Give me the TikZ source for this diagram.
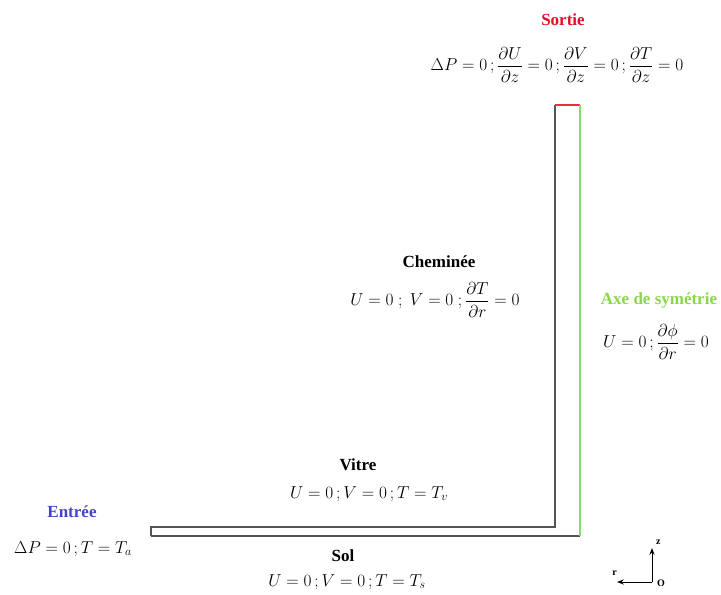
\documentclass[tikz,border=0pt]{standalone}
\usepackage{amsmath}
\usepackage{fontspec}
\setmainfont{Liberation Serif}
\usetikzlibrary{arrows.meta, positioning}
\definecolor{wallgray}{HTML}{555555}
\definecolor{outred}{HTML}{e8303a}
\definecolor{axisgreen}{HTML}{7ee06a}
\definecolor{sortiered}{HTML}{e0102a}
\definecolor{entreeblue}{HTML}{4545c0}
\definecolor{axetext}{HTML}{8ad84a}

\begin{document}
\begin{tikzpicture}[
    x=1pt, y=-1pt,
    title_node/.style={font=\bfseries\fontsize{17}{19}\selectfont, inner sep=0pt},
    cond_node/.style={font=\fontsize{18}{21}\selectfont, inner sep=0pt},
    small_label/.style={font=\bfseries\fontsize{10}{11}\selectfont, inner sep=0pt},
    wall/.style={draw=wallgray, line width=1.3pt},
    arrow/.style={-{Stealth[scale=0.9]}, line width=1pt}
]
\useasboundingbox (0,0) rectangle (721,595);

% Domain
\coordinate (in_top) at (151,527);
\coordinate (in_bot) at (151,536);
\coordinate (ch_foot) at (555,527);
\coordinate (ch_top) at (555,105);
\coordinate (ax_top) at (580,105);
\coordinate (ax_foot) at (580,536);

\draw[wall] (in_bot) -- (in_top) -- (ch_foot) -- (ch_top);
\draw[wall] (in_bot) -- (ax_foot);
\draw[draw=outred, line width=1.3pt] (ch_top) -- (ax_top);
\draw[draw=axisgreen, line width=1.3pt] (ax_top) -- (ax_foot);

% Sortie
\node[title_node, text=sortiered] (sortie) at (563,20) {Sortie};
\node[cond_node] (sortie_bc) at (557,65)
    {$\Delta P=0\,;\dfrac{\partial U}{\partial z}=0\,;\dfrac{\partial V}{\partial z}=0\,;\dfrac{\partial T}{\partial z}=0$};

% Cheminee
\node[title_node] (chem) at (439,262) {Cheminée};
\node[cond_node] (chem_bc) at (435,300)
    {$U=0\ ;\ V=0\ ;\dfrac{\partial T}{\partial r}=0$};

% Axe
\node[title_node, text=axetext] (axe) at (659,300) {Axe de symétrie};
\node[cond_node] (axe_bc) at (656,342)
    {$U=0\,;\dfrac{\partial \phi}{\partial r}=0$};

% Vitre
\node[title_node] (vitre) at (358,465) {Vitre};
\node[cond_node] (vitre_bc) at (369,494) {$U=0\,;V=0\,;T=T_v$};

% Entree
\node[title_node, text=entreeblue] (entree) at (72,512) {Entrée};
\node[cond_node] (entree_bc) at (73,549) {$\Delta P=0\,;T=T_a$};

% Sol
\node[title_node] (sol) at (343,556) {Sol};
\node[cond_node] (sol_bc) at (347,582) {$U=0\,;V=0\,;T=T_s$};

% Axes
\coordinate (orig) at (652,582);
\coordinate (z_tip) at (652,548);
\coordinate (r_tip) at (617,582);
\draw[arrow] (orig) -- (z_tip);
\draw[arrow] (orig) -- (r_tip);
\node[small_label, right=4pt of z_tip, yshift=6pt] (z_lab) {z};
\node[small_label, above left=6pt and 0pt of r_tip] (r_lab) {r};
\node[small_label, right=5pt of orig, yshift=-1pt] (o_lab) {O};

\end{tikzpicture}
\end{document}
